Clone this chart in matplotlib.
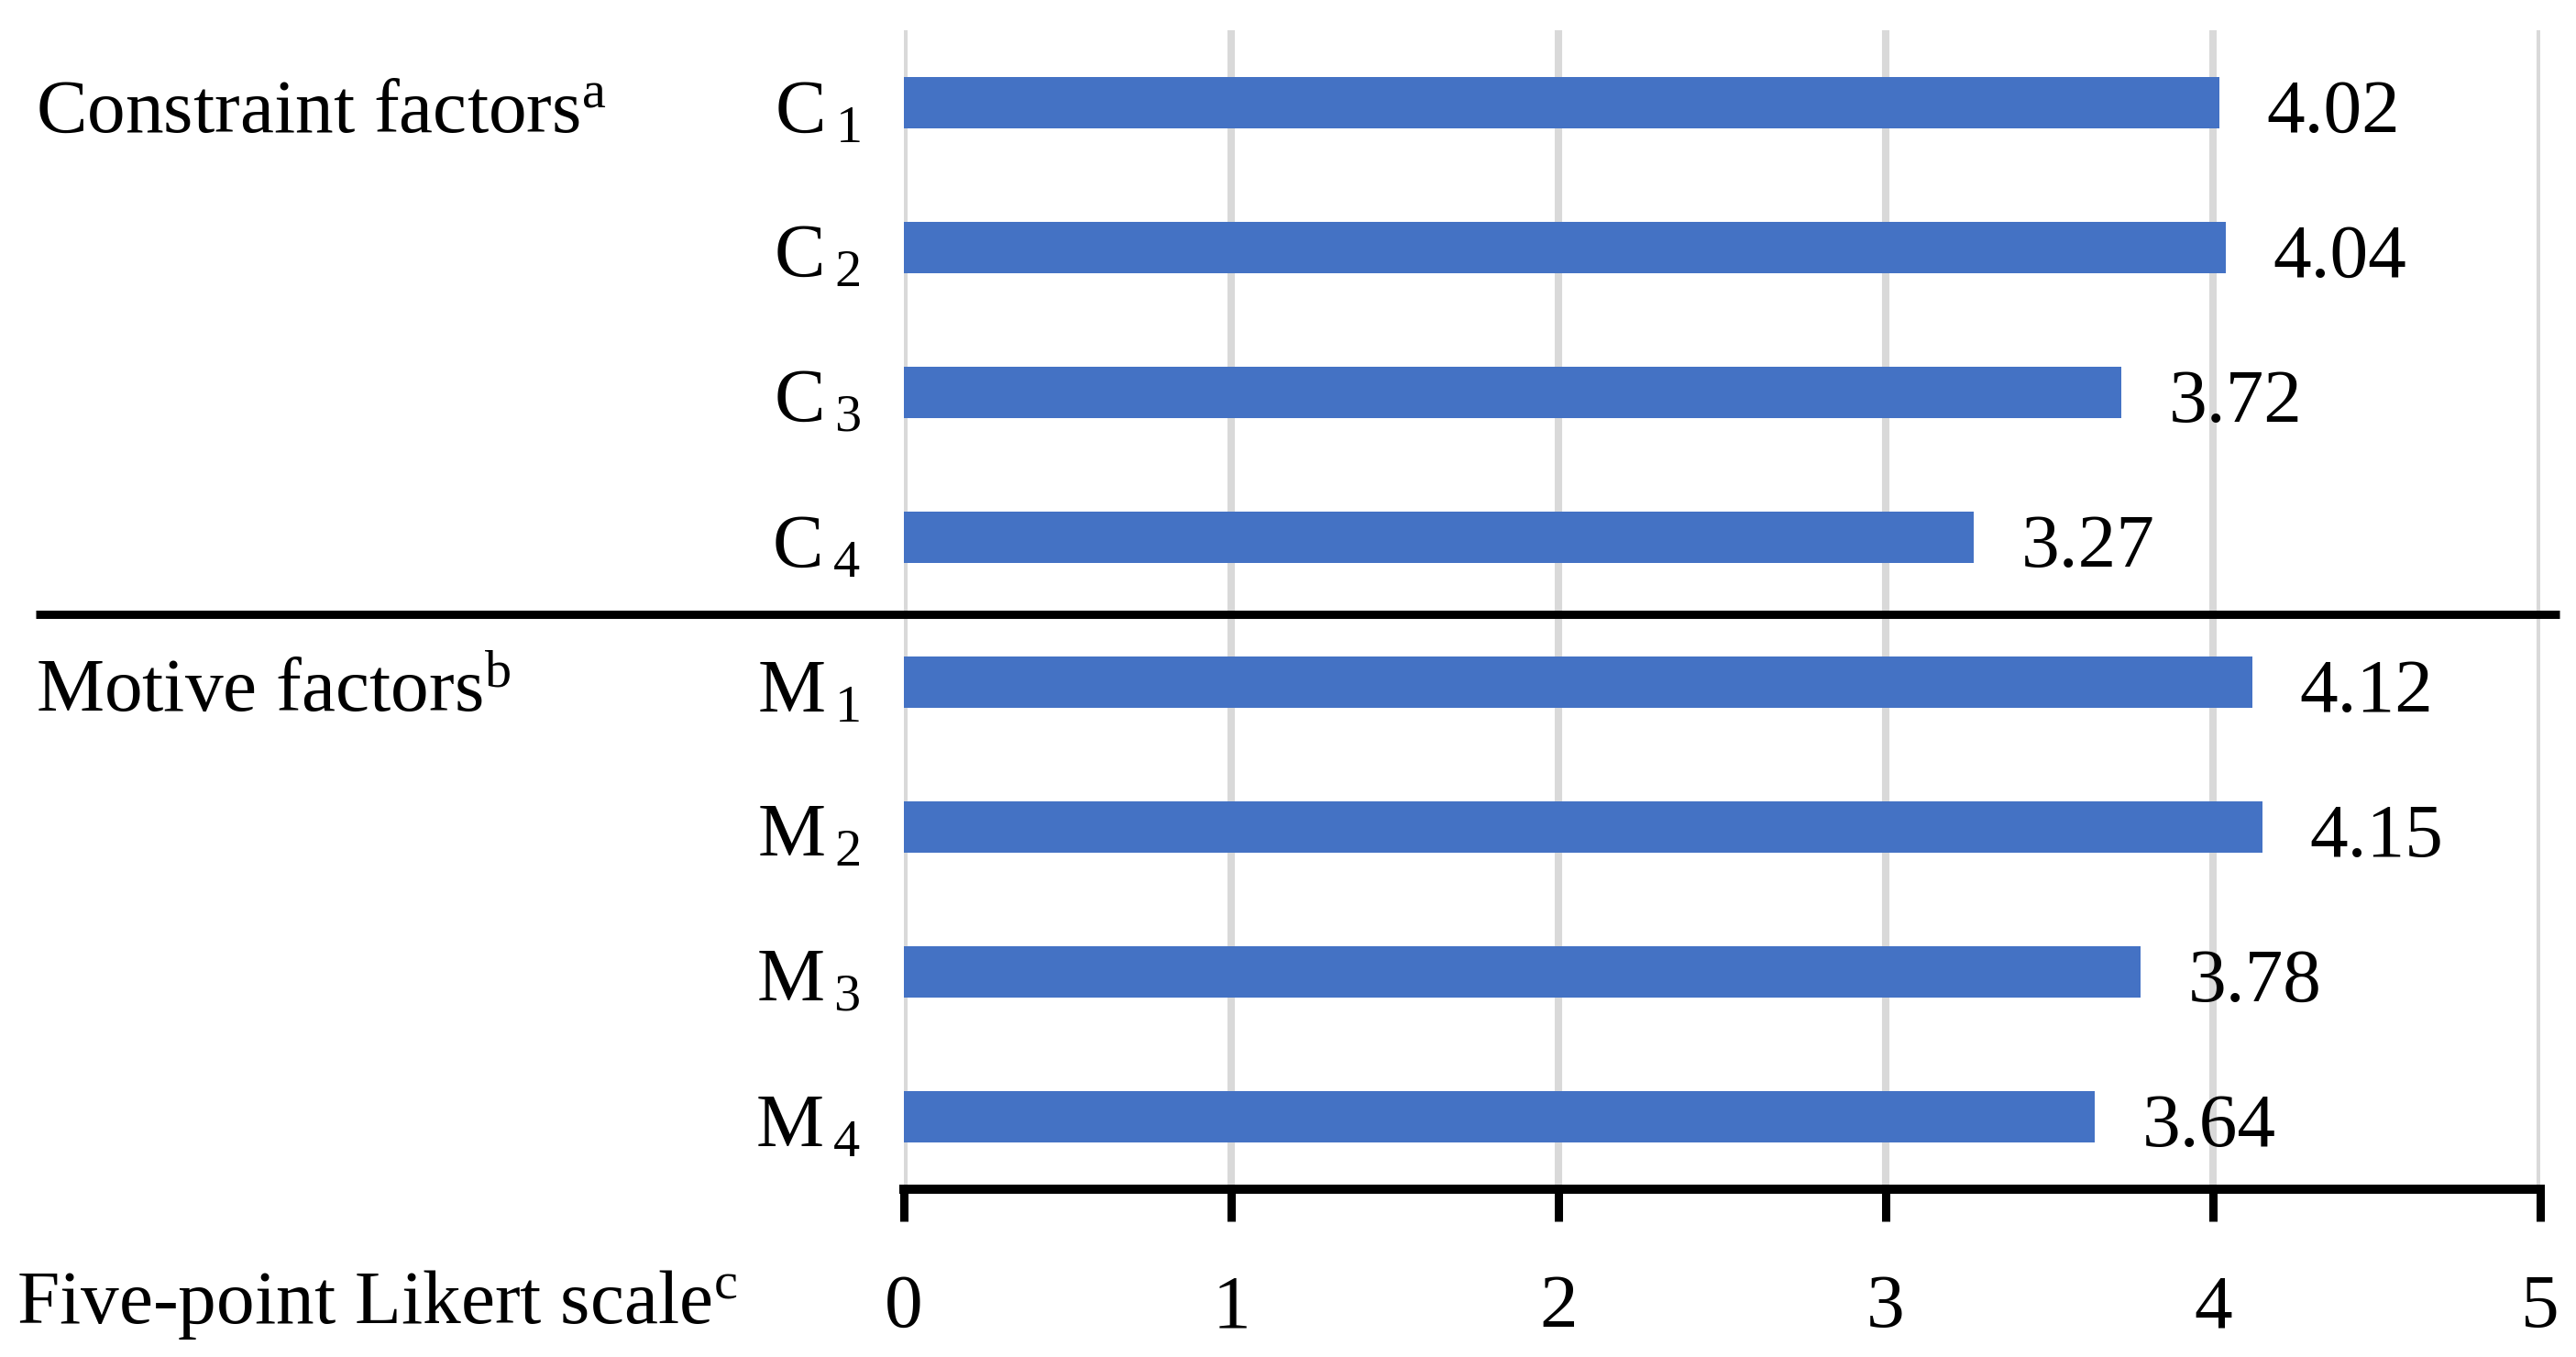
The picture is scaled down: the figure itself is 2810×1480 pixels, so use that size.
import matplotlib
matplotlib.use("Agg")
import matplotlib.pyplot as plt
from matplotlib.transforms import ScaledTranslation, blended_transform_factory

plt.rcParams["font.family"] = ["Liberation Serif", "DejaVu Serif"]
plt.rcParams["mathtext.fontset"] = "custom"
plt.rcParams["mathtext.rm"] = "Liberation Serif"
plt.rcParams["mathtext.it"] = "Liberation Serif:italic"

# factor codes and mean scores
letters = ["C", "C", "C", "C", "M", "M", "M", "M"]
numbers = [1, 2, 3, 4, 1, 2, 3, 4]
scores = [4.02, 4.04, 3.72, 3.27, 4.12, 4.15, 3.78, 3.64]
x_ticks = [0, 1, 2, 3, 4, 5]

FS = 60
BLUE = "#4472C4"

fig = plt.figure(figsize=(28.1, 14.8), dpi=100)
ax = fig.add_axes([986 / 2810, 1 - 1297 / 1480, (2771 - 986) / 2810, (1297 - 33) / 1480])

ypos = list(range(len(scores)))
ax.barh(ypos, scores, height=0.36, color=BLUE, zorder=3)

for y, v in zip(ypos, scores):
    ax.annotate(f"{v:.2f}", xy=(v, y), xytext=(37, -22.7), textcoords="offset points",
                va="baseline", ha="left", fontsize=FS)

# factor codes drawn at the left of the bars
for y, l, n in zip(ypos, letters, numbers):
    ax.annotate(rf"{l}$\,{{}}_{{{n}}}$", xy=(0, y), xytext=(-34, -22.7),
                textcoords="offset points", va="baseline", ha="right",
                fontsize=FS, annotation_clip=False)

ax.set_xlim(0, 5)
ax.set_ylim(7.5, -0.5)
ax.set_xticks(x_ticks)
ax.set_xticklabels([str(t) for t in x_ticks], fontsize=FS, va="baseline")
ax.set_yticks(ypos)
ax.tick_params(axis="y", length=0, labelleft=False)
ax.tick_params(axis="x", length=25, width=6.5, direction="out", pad=83, color="black")

ax.grid(axis="x", color="#D9D9D9", linewidth=5.8, zorder=0)
for s in ["top", "right", "left"]:
    ax.spines[s].set_visible(False)
ax.spines["bottom"].set_linewidth(7.2)
ax.spines["bottom"].set_color("black")
ax.spines["bottom"].set_zorder(4)

# separator between groups and group labels
tr = blended_transform_factory(fig.transFigure, ax.transData)
ax.plot([39 / 2810, 2792 / 2810], [3.53, 3.53], transform=tr, color="black",
        linewidth=6.5, clip_on=False, zorder=5, solid_capstyle="butt")

off = ScaledTranslation(0, -22.7 / 72, fig.dpi_scale_trans)
ax.text(39 / 2810, 0, r"Constraint factors$^{\mathrm{a}}$", transform=tr + off,
        fontsize=FS, va="baseline", ha="left")
ax.text(39 / 2810, 4, r"Motive factors$^{\mathrm{b}}$", transform=tr + off,
        fontsize=FS, va="baseline", ha="left")
fig.text(18 / 2810, 1 - 1443 / 1480, r"Five-point Likert scale$^{\mathrm{c}}$",
         fontsize=FS, va="baseline", ha="left")

fig.savefig("out.png", dpi=100, facecolor="white")
